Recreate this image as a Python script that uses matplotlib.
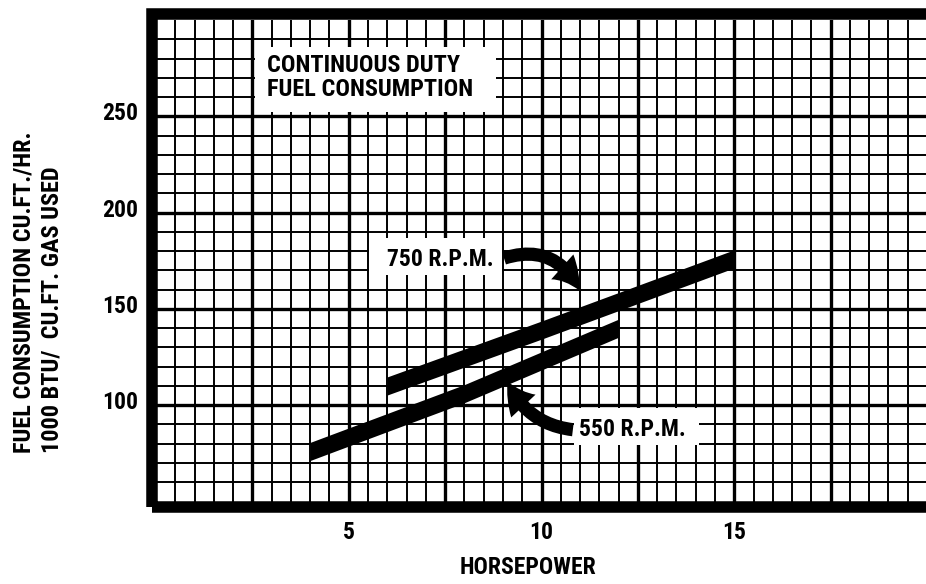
import numpy as np
import matplotlib
matplotlib.use("Agg")
import matplotlib.pyplot as plt
from matplotlib import font_manager as fm
from matplotlib.patches import Rectangle, FancyArrowPatch
from matplotlib.transforms import ScaledTranslation

# pick a narrow face if one is installed
fonts = fm.fontManager.ttflist
names = {f.name for f in fonts}
stretch = 'normal'
family = 'DejaVu Sans'
for cand in ['Liberation Sans Narrow', 'Roboto Condensed', 'Open Sans Condensed',
             'Noto Sans Condensed', 'DejaVu Sans Condensed', 'Arial Narrow']:
    if cand in names:
        family = cand
        break
else:
    for f in fonts:
        if f.name in ('DejaVu Sans', 'Noto Sans', 'Roboto', 'Open Sans') and \
                str(f.stretch) in ('condensed', 'semi-condensed', '75', '87.5', 'extra-condensed'):
            family = f.name
            stretch = 'condensed'
            break
plt.rcParams['font.family'] = [family, 'DejaVu Sans']
plt.rcParams['font.stretch'] = stretch
plt.rcParams['font.weight'] = 'bold'

# Data (horsepower vs. cu.ft./hr)
hp_750 = [6, 10, 15]
fuel_750 = [110, 139, 176]
hp_550 = [4, 8, 12]
fuel_550 = [76, 106, 140]
band_half = 4.7  # half thickness of the drawn bands

x_ticks = [5, 10, 15]
y_ticks = [100, 150, 200, 250]

W, H = 926, 584
fig = plt.figure(figsize=(W / 100, H / 100), dpi=100)
ax = fig.add_axes([156 / W, (H - 501.5) / H, (927 - 156) / W, (501.5 - 20) / H])
ax.set_xlim(0, 20)
ax.set_ylim(50, 300)
for s in ax.spines.values():
    s.set_visible(False)

# grid paper
for xv in np.arange(0.5, 20, 0.5):
    heavy = abs(xv / 2.5 - round(xv / 2.5)) < 1e-6
    ax.axvline(xv, color='black', lw=2.4 if heavy else 1.4, zorder=1)
for yv in np.arange(60, 300, 10):
    heavy = yv % 50 == 0
    ax.axhline(yv, color='black', lw=2.4 if heavy else 1.4, zorder=1)

# thick frame
fig.add_artist(Rectangle((151.5 / W, (H - 506.5) / H), (940 - 151.5) / W, (506.5 - 14) / H,
                         transform=fig.transFigure, fill=False, lw=8.3,
                         edgecolor='black', joinstyle='miter', zorder=10))

def px2data(px, py):
    return (px - 156) / 38.4, 50 + (501.5 - py) / 1.926

def white_box(x0, y0, x1, y1):
    a = px2data(x0, y1)
    b = px2data(x1, y0)
    ax.add_patch(Rectangle(a, b[0] - a[0], b[1] - a[1], facecolor='white',
                           edgecolor='none', zorder=2))

# label boxes
white_box(255, 47, 495, 112)
white_box(368, 238, 501, 275)
white_box(572, 408, 697, 445)

tx, ty = px2data(267, 77.5)
ax.text(tx, ty, "CONTINUOUS DUTY\nFUEL CONSUMPTION", fontsize=17.5,
        ha='left', va='center', linespacing=1.1, zorder=5)
tx, ty = px2data(386, 259)
ax.text(tx, ty, "750 R.P.M.", fontsize=17, ha='left', va='center', zorder=5)
tx, ty = px2data(577, 430)
ax.text(tx, ty, "550 R.P.M.", fontsize=17, ha='left', va='center', zorder=5)

# bands
ax.fill_between(hp_750, np.array(fuel_750) - band_half, np.array(fuel_750) + band_half,
                color='black', lw=0, zorder=3)
ax.fill_between(hp_550, np.array(fuel_550) - band_half, np.array(fuel_550) + band_half,
                color='black', lw=0, zorder=3)

# arrows
style = "simple,tail_width=0.95,head_width=2.4,head_length=2.1"
ax.add_patch(FancyArrowPatch(px2data(500, 259), px2data(579, 293),
                             connectionstyle="arc3,rad=-0.45", arrowstyle=style,
                             mutation_scale=10, color='black', lw=0, zorder=4))
ax.add_patch(FancyArrowPatch(px2data(574, 430), px2data(505, 379),
                             connectionstyle="arc3,rad=-0.3", arrowstyle=style,
                             mutation_scale=10, color='black', lw=0, zorder=4))

# ticks
ax.set_xticks(x_ticks)
ax.set_xticklabels([str(v) for v in x_ticks])
ax.set_yticks(y_ticks)
ax.set_yticklabels([str(v) for v in y_ticks])
ax.tick_params(length=0, labelsize=17, pad=14)
ax.tick_params(axis='y', pad=13)
lift = ScaledTranslation(0, 5 / 100, fig.dpi_scale_trans)
for lab in ax.get_yticklabels():
    lab.set_transform(lab.get_transform() + lift)

fig.text(528 / W, (H - 567) / H, "HORSEPOWER", fontsize=17, ha='center', va='center')
fig.text(38 / W, (H - 292) / H, "FUEL CONSUMPTION CU.FT./HR.\n1000 BTU/  CU.FT. GAS USED",
         fontsize=17.5, rotation=90, ha='center', va='center', multialignment='left',
         linespacing=1.3)

fig.savefig("out.png", dpi=100, facecolor='white')
